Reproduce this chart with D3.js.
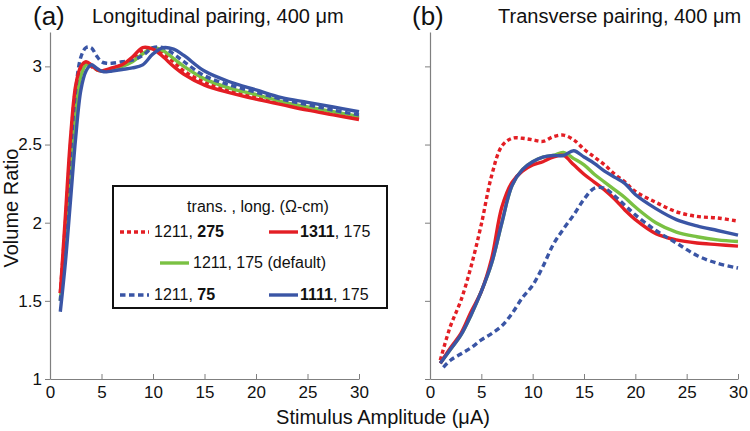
<!DOCTYPE html>
<html><head><meta charset="utf-8">
<script src="https://cdn.jsdelivr.net/npm/d3@7"></script>
<style>body{margin:0;background:#fff}svg{display:block;font-family:"Liberation Sans",Arial,sans-serif}</style>
</head><body><svg id="c" width="750" height="431"></svg>
<script>
// ---- data ----
const xTicks = [0,5,10,15,20,25,30];
const yTicks = [1,1.5,2,2.5,3];
const yTickLabels = ["1","1.5","2","2.5","3"];

const xA = [1,1.5,2,2.5,3,3.5,4,4.5,5,5.5,6,7,8,9,10,11,12,13,15,17.5,20,22.5,25,27.5,30];
const aRedDot  = [1.55,2.00,2.50,2.86,2.99,3.02,3.00,2.98,2.97,2.975,2.985,3.01,3.05,3.10,3.115,3.08,3.03,2.97,2.90,2.845,2.805,2.765,2.73,2.70,2.67];
const aRed     = [1.55,2.05,2.55,2.88,3.00,3.03,3.01,2.98,2.97,2.98,2.99,3.01,3.06,3.12,3.11,3.06,3.00,2.95,2.88,2.83,2.79,2.755,2.72,2.69,2.66];
const aGreen   = [1.50,1.90,2.35,2.72,2.94,3.01,3.01,2.98,2.97,2.97,2.98,3.00,3.03,3.08,3.12,3.10,3.05,3.00,2.92,2.86,2.82,2.775,2.74,2.71,2.68];
const aBlueDot = [1.50,1.95,2.45,2.85,3.06,3.12,3.12,3.07,3.03,3.02,3.02,3.03,3.04,3.07,3.12,3.12,3.08,3.03,2.94,2.88,2.835,2.79,2.755,2.72,2.69];
const aBlue    = [1.43,1.75,2.15,2.55,2.85,2.97,3.01,2.99,2.97,2.965,2.97,2.98,2.99,3.01,3.08,3.12,3.11,3.07,2.97,2.90,2.85,2.80,2.77,2.74,2.71];

const xB = [1,2,3,4,5,6,7,8,9,10,11,12,13,14,15,16,17,18,19,20,22,24,26,28,30];
const bRedDot  = [1.12,1.34,1.50,1.72,1.99,2.30,2.49,2.54,2.54,2.53,2.52,2.55,2.56,2.53,2.47,2.42,2.37,2.31,2.26,2.20,2.13,2.07,2.04,2.03,2.01];
const bRed     = [1.10,1.20,1.29,1.43,1.56,1.77,2.10,2.26,2.33,2.37,2.39,2.42,2.43,2.37,2.31,2.26,2.21,2.15,2.08,2.02,1.93,1.89,1.87,1.86,1.85];
const bGreen   = [1.10,1.19,1.28,1.41,1.56,1.74,2.00,2.24,2.34,2.39,2.42,2.43,2.45,2.41,2.37,2.31,2.26,2.21,2.16,2.10,2.00,1.94,1.91,1.89,1.88];
const bBlue    = [1.10,1.19,1.28,1.41,1.56,1.74,2.00,2.24,2.34,2.39,2.42,2.43,2.43,2.46,2.42,2.38,2.33,2.29,2.25,2.18,2.09,2.02,1.98,1.95,1.92];
const xBblueDot = [1.3,2,3,4,5,6,7,8,9,10,11,12,13,14,15,16,17,18,19,20,22,24,26,28,30];
const bBlueDot = [1.075,1.12,1.16,1.20,1.25,1.29,1.34,1.42,1.52,1.60,1.72,1.86,1.96,2.05,2.15,2.22,2.22,2.17,2.11,2.05,1.95,1.87,1.79,1.74,1.71];

const RED="#e31e24", GREEN="#7ac143", BLUE="#3a55a5";
const styles = {
  redDot:{color:RED,dash:"4,3"}, red:{color:RED,dash:null},
  green:{color:GREEN,dash:null},
  blueDot:{color:BLUE,dash:"5.5,3.5"}, blue:{color:BLUE,dash:null}
};

const panels = [
  {x0:50,x1:359,labels:true,title:"(a)",tx:33,sub:"Longitudinal pairing, 400 \u03bcm",sx:92,
   series:[["redDot",xA,aRedDot],["green",xA,aGreen],["blueDot",xA,aBlueDot],["red",xA,aRed],["blue",xA,aBlue]]},
  {x0:430,x1:738,labels:false,title:"(b)",tx:412,sub:"Transverse pairing, 400 \u03bcm",sx:498,
   series:[["redDot",xB,bRedDot],["green",xB,bGreen],["red",xB,bRed],["blue",xB,bBlue],["blueDot",xBblueDot,bBlueDot]]}
];

const svg = d3.select("#c");
svg.append("rect").attr("width",750).attr("height",431).attr("fill","#fff");

const y = d3.scaleLinear().domain([1,3.22]).range([379,32]);
const AX="#7f7f7f";

panels.forEach(p=>{
  const x = d3.scaleLinear().domain([0,30]).range([p.x0,p.x1]);
  const gx = svg.append("g").attr("transform","translate(0,379)")
    .call(d3.axisBottom(x).tickValues(xTicks).tickSizeInner(-5).tickSizeOuter(0).tickPadding(7));
  gx.select(".domain").attr("stroke",AX).attr("stroke-width",1.2);
  gx.selectAll(".tick line").attr("stroke",AX);
  gx.selectAll(".tick text").attr("font-size",17).attr("fill","#111").attr("font-family","Liberation Sans, Arial, sans-serif");
  const gy = svg.append("g").attr("transform",`translate(${p.x0},0)`)
    .call(d3.axisLeft(y).tickValues(yTicks).tickSizeInner(5).tickSizeOuter(0).tickPadding(3)
      .tickFormat((d,i)=>p.labels?yTickLabels[i]:""));
  gy.select(".domain").attr("stroke",AX).attr("stroke-width",1.2);
  gy.selectAll(".tick line").attr("stroke",AX);
  gy.selectAll(".tick text").attr("font-size",17).attr("fill","#111").attr("font-family","Liberation Sans, Arial, sans-serif");

  const line = d3.line().curve(d3.curveCatmullRom.alpha(0.5));
  p.series.forEach(([k,xs,ys])=>{
    const s=styles[k];
    svg.append("path")
      .attr("d", line(xs.map((v,i)=>[x(v),y(ys[i])])))
      .attr("fill","none").attr("stroke",s.color).attr("stroke-width",3.4)
      .attr("stroke-dasharray",s.dash).attr("stroke-linejoin","round");
  });

  svg.append("text").attr("x",p.tx).attr("y",25).attr("font-size",26).attr("fill","#111").text(p.title);
  svg.append("text").attr("x",p.sx).attr("y",23).attr("font-size",20).attr("fill","#111").text(p.sub);
});

svg.append("text").attr("x",383).attr("y",424).attr("text-anchor","middle").attr("font-size",20).attr("fill","#111")
  .text("Stimulus Amplitude (\u03bcA)");
svg.append("text").attr("transform","translate(18,208) rotate(-90)").attr("text-anchor","middle").attr("font-size",20).attr("fill","#111")
  .text("Volume Ratio");

const lg = svg.append("g");
lg.append("rect").attr("x",113).attr("y",186).attr("width",274).attr("height",122)
  .attr("fill","#fff").attr("stroke","#111").attr("stroke-width",2);
lg.append("text").attr("x",258).attr("y",212).attr("text-anchor","middle").attr("font-size",16).attr("fill","#111")
  .text("trans. , long. (\u03a9-cm)");
const legendItems = [
  {k:"redDot", lx:120, ly:232, tx:154, ty:237, parts:[["1211, ",false],["275",true]]},
  {k:"red",    lx:269, ly:232, tx:300, ty:237, parts:[["1311",true],[", 175",false]]},
  {k:"green",  lx:160, ly:263, tx:193, ty:268, parts:[["1211, 175 (default)",false]]},
  {k:"blueDot",lx:120, ly:295, tx:154, ty:300, parts:[["1211, ",false],["75",true]]},
  {k:"blue",   lx:269, ly:295, tx:300, ty:300, parts:[["1111",true],[", 175",false]]}
];
legendItems.forEach(it=>{
  const s=styles[it.k];
  lg.append("line").attr("x1",it.lx).attr("x2",it.lx+29).attr("y1",it.ly).attr("y2",it.ly)
    .attr("stroke",s.color).attr("stroke-width",3.4).attr("stroke-dasharray",s.dash);
  const t = lg.append("text").attr("x",it.tx).attr("y",it.ty).attr("font-size",16).attr("fill","#111");
  it.parts.forEach(([str,b])=>t.append("tspan").attr("font-weight",b?"bold":"normal").text(str));
});
</script></body></html>
